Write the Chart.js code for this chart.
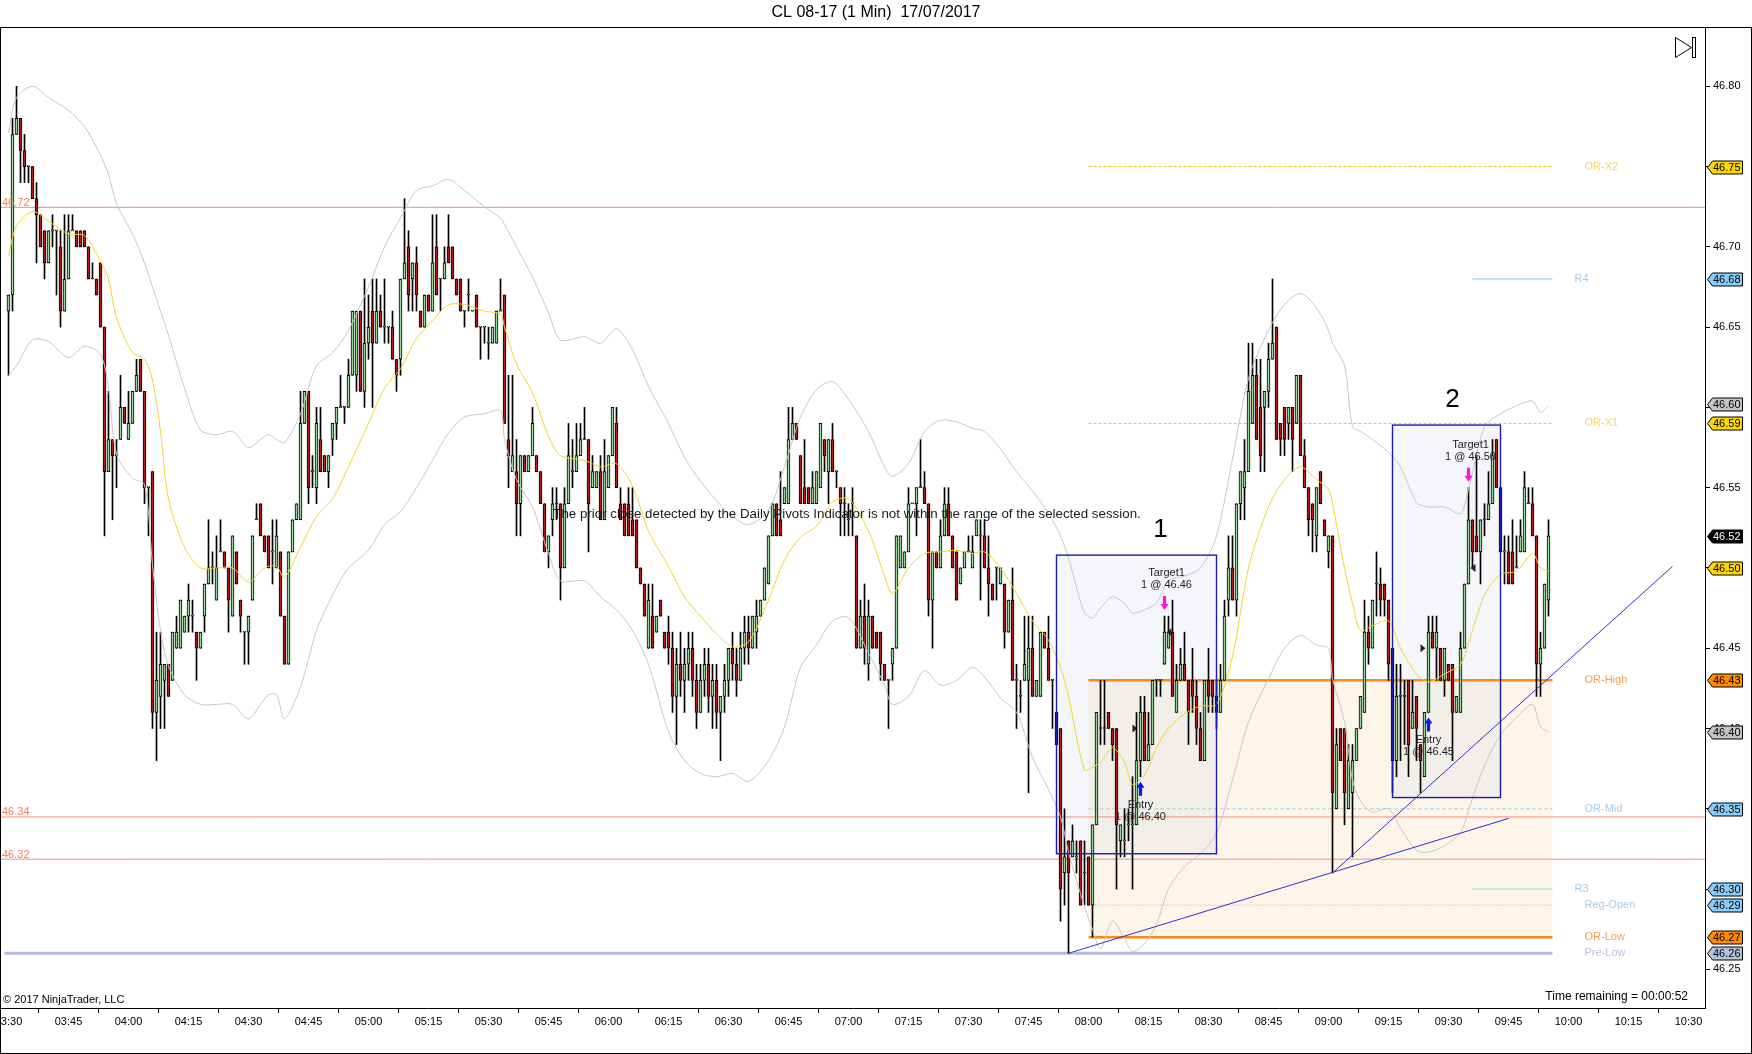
<!DOCTYPE html>
<html>
<head>
<meta charset="utf-8">
<script src="https://cdn.jsdelivr.net/npm/chart.js@4.4.0/dist/chart.umd.min.js"></script>
<style>
  html, body { margin: 0; padding: 0; background: #fff; }
</style>
</head>
<body>
<canvas id="grafico" width="1752" height="1054"></canvas>
<script>
// CL 08-17, barras de 1 minuto a partir das 03:30
const firstBar = '03:30';

// precos em centavos acima de 46.00
const opens = [
  66,67,77,78,76,75,75,73,72,71, 69,71,71,70,66,68,71,71,71,71,
  70,68,68,69,65,56,58,57,58,60, 58,59,61,63,61,55,56,41,42,43,
  44,43,45,45,46,47,47,46,45,47, 49,50,48,51,51,50,47,51,48,46,
  46,48,53,54,52,52,51,50,51,47, 44,51,53,53,59,61,56,55,58,57,
  56,58,59,60,60,60,62,62,66,61, 64,66,64,66,65,65,65,63,63,68,
  70,68,69,66,65,67,66,70,68,68, 70,70,68,68,66,67,66,67,65,65,
  64,64,64,66,67,58,56,56,54,57, 56,57,57,56,54,51,53,54,54,50,
  54,56,56,57,58,58,55,55,56,53, 55,57,59,54,54,54,53,53,50,49,
  45,47,46,48,46,46,45,42,44,43, 44,45,43,41,43,44,42,43,41,42,
  43,45,44,43,45,46,45,46,47,48, 49,52,54,53,54,54,58,59,57,55,
  55,54,54,55,58,56,58,56,55,54, 53,54,52,45,47,44,47,46,46,44,
  43,44,45,50,50,51,54,54,55,55, 54,48,51,50,52,54,52,51,49,50,
  51,50,52,52,52,50,49,50,49,49, 46,48,43,42,43,43,45,42,42,46,
  45,43,41,40,31,33,32,32,33,31, 32,29,34,40,40,41,40,40,33,33,
  34,34,34,38,41,38,39,43,43,44, 45,46,41,43,44,43,43,42,40,38,
  43,43,42,41,43,48,50,48,54,55, 56,59,62,60,60,61,63,65,59,60,
  59,60,59,62,57,55,54,52,56,53, 51,52,35,40,40,35,36,38,40,41,
  46,45,49,49,49,48,45,38,42,42, 43,40,42,39,37,41,46,45,45,43,
  44,44,41,41,45,49,53,52,51,53, 53,54,58,55,51,51,51,50,51,51,
  54,54,52,44,45,48
];
const highs = [
  67,78,80,78,77,75,75,74,72,71, 71,72,71,71,72,72,72,71,71,71,
  70,69,68,69,65,61,58,58,62,60, 61,61,63,63,61,55,56,46,46,44,
  44,46,47,48,47,49,48,46,46,49, 53,51,52,53,51,50,52,51,48,46,
  47,52,54,54,52,52,53,53,51,47, 51,53,54,61,61,61,57,60,60,57,
  57,59,60,62,60,63,66,66,66,68, 67,68,68,67,68,65,66,63,68,73,
  71,69,70,66,67,67,72,72,68,70, 72,70,68,68,66,68,66,67,65,65,
  65,65,66,68,67,62,62,58,57,57, 57,60,57,56,54,52,55,55,54,55,
  59,58,59,59,60,58,57,56,57,58, 57,60,60,55,54,55,55,53,50,49,
  49,49,47,48,46,47,46,45,46,45, 46,46,44,44,45,45,44,44,42,44,
  45,46,45,46,47,47,47,48,48,50, 52,54,54,56,55,60,60,59,57,58,
  55,56,56,59,58,58,59,56,55,55, 54,55,52,48,49,48,47,46,46,44,
  43,45,52,52,51,55,54,55,58,56, 54,51,51,53,55,55,52,51,50,51,
  52,52,53,53,53,52,49,50,50,49, 48,50,44,43,47,47,47,43,46,46,
  47,43,41,40,35,33,34,33,33,33, 32,34,41,43,43,41,40,40,34,35,
  35,37,41,42,42,41,43,43,43,47, 47,48,44,45,46,43,45,43,41,43,
  45,43,43,44,48,52,52,54,56,58, 64,64,63,63,61,64,68,65,59,60,
  60,60,62,62,58,55,54,55,56,53, 52,52,40,40,40,39,39,40,42,48,
  47,48,51,50,49,48,45,44,44,43, 43,43,42,39,41,47,47,47,45,45,
  44,44,42,46,49,55,53,57,53,54, 56,58,58,55,52,52,53,52,53,56,
  55,55,52,46,49,53
];
const lows = [
  62,66,77,74,74,74,73,69,70,68, 69,70,67,65,66,68,71,70,70,70,
  68,68,67,65,52,56,53,55,58,59, 58,59,61,61,54,52,40,38,40,40,
  42,43,45,45,46,46,46,43,45,46, 49,49,48,51,50,46,47,49,46,44,
  44,48,53,52,51,50,49,50,47,44, 44,51,53,53,59,54,55,54,56,56,
  55,57,58,60,59,60,62,61,61,60, 63,60,64,65,64,64,63,61,62,68,
  66,66,66,65,65,66,66,67,66,68, 69,68,67,66,65,66,66,65,63,64,
  63,64,64,66,59,55,56,52,52,56, 56,57,56,54,51,50,52,53,48,50,
  54,55,56,57,58,51,55,55,53,53, 55,57,55,53,52,52,52,50,49,47,
  45,45,46,47,45,44,41,39,42,41, 43,42,40,41,42,41,40,40,38,41,
  42,43,42,43,44,44,45,45,47,48, 49,52,52,52,54,54,58,58,54,54,
  54,54,54,55,56,54,56,55,52,52, 52,52,45,45,44,43,45,45,43,43,
  40,43,45,50,50,51,54,52,55,54, 47,45,50,50,52,52,50,48,49,50,
  51,50,52,48,50,47,48,48,49,45, 46,43,40,41,43,36,42,42,42,45,
  43,40,39,28,29,26,32,31,29,29, 29,27,34,39,39,40,38,30,32,32,
  33,30,34,37,38,38,39,42,42,44, 45,42,41,43,43,39,41,39,38,38,
  41,41,40,41,43,47,48,47,53,53, 56,59,58,56,56,60,63,58,57,57,
  58,56,59,57,55,52,51,51,54,52, 50,31,35,38,34,35,32,38,40,41,
  44,45,47,47,47,43,36,37,38,39, 37,40,38,36,37,41,45,43,43,42,
  43,38,41,41,45,49,50,51,49,52, 53,54,55,51,49,49,49,50,51,51,
  54,52,42,42,45,47
];
const closes = [
  67,77,78,76,75,75,73,72,70,69, 71,71,71,66,68,71,71,70,70,70,
  68,68,67,65,56,58,57,57,60,59, 59,61,62,61,55,55,41,43,44,44,
  42,46,46,48,47,48,47,45,46,49, 50,50,50,51,50,48,52,49,47,46,
  47,52,53,52,51,50,51,52,47,44, 51,53,54,59,61,55,56,59,56,56,
  57,59,60,60,60,62,66,66,61,64, 65,64,66,65,65,65,63,62,68,69,
  67,69,67,65,67,66,69,67,68,69, 69,68,67,66,66,67,66,65,65,65,
  64,65,66,66,59,57,57,54,57,56, 57,59,56,54,51,52,54,54,50,54,
  57,56,57,58,58,54,56,56,53,56, 57,60,55,53,52,52,52,50,49,47,
  48,45,47,47,45,45,42,44,43,44, 45,43,41,43,44,42,43,41,42,43,
  45,44,43,45,46,45,47,47,48,50, 52,54,52,52,55,58,59,58,54,54,
  54,55,56,59,57,58,56,56,54,54, 53,54,45,47,45,47,45,45,44,43,
  43,45,52,52,51,54,54,55,55,54, 48,51,50,52,54,52,50,48,50,51,
  51,51,53,52,50,49,48,50,50,46, 48,43,43,42,44,45,42,43,46,45,
  43,43,39,30,32,31,33,32,29,31, 29,34,41,40,40,40,39,34,34,33,
  34,34,38,41,38,39,43,43,43,46, 46,42,43,44,43,41,42,40,38,43,
  42,42,41,43,47,50,48,54,56,56, 61,62,58,57,61,63,64,58,58,58,
  60,58,62,57,55,53,53,55,54,52, 52,36,39,38,36,38,38,40,42,46,
  45,48,49,48,48,44,38,42,42,42, 39,41,40,38,41,46,45,46,43,45,
  43,41,42,45,49,53,51,51,53,53, 54,57,55,51,51,49,49,50,52,55,
  54,52,44,45,49,52
];

// Bollinger e media (amostrados a cada poucas barras)
const bandAt = [0,2,6,10,15,19,23,25,27,31,34,36,38,40,44,48,52,56,60,63,65,67,69,73,77,81,85,90,94,98,
  102,106,110,114,119,123,124,127,131,135,138,144,148,152,156,160,165,169,173,177,181,185,190,194,198,
  202,206,210,215,219,221,225,229,233,237,241,244,248,252,256,260,263,265,269,271,273,276,279,281,284,287,290,294,298,
  302,306,310,315,319,323,327,330,331,334,336,338,341,345,348,352,355,359,363,365,369,373,377,381,383,385];
const upperBand = [46.771,46.793,46.800,46.793,46.785,46.775,46.757,46.745,46.727,46.708,46.690,46.675,46.660,46.645,46.612,46.586,46.583,46.585,46.575,46.580,46.583,46.580,46.578,46.596,46.626,46.634,46.648,46.675,46.700,46.718,
  46.735,46.738,46.742,46.735,46.725,46.718,46.714,46.700,46.681,46.659,46.642,46.644,46.640,46.649,46.636,46.613,46.590,46.569,46.554,46.542,46.532,46.527,46.536,46.563,46.594,
  46.611,46.616,46.605,46.585,46.563,46.557,46.565,46.585,46.592,46.591,46.587,46.585,46.574,46.560,46.548,46.534,46.520,46.506,46.472,46.469,46.475,46.482,46.478,46.472,46.474,46.478,46.492,46.495,46.500,
  46.520,46.568,46.618,46.648,46.664,46.671,46.662,46.648,46.640,46.626,46.588,46.585,46.580,46.572,46.563,46.541,46.538,46.538,46.534,46.549,46.588,46.596,46.601,46.604,46.597,46.601];
const lowerBand = [46.620,46.626,46.642,46.641,46.631,46.638,46.633,46.612,46.571,46.556,46.552,46.502,46.461,46.439,46.421,46.415,46.415,46.415,46.406,46.415,46.421,46.421,46.406,46.426,46.461,46.483,46.500,46.511,46.527,46.535,
  46.550,46.567,46.584,46.594,46.596,46.598,46.580,46.555,46.538,46.509,46.492,46.492,46.482,46.474,46.461,46.440,46.398,46.380,46.372,46.370,46.372,46.367,46.380,46.401,46.438,
  46.452,46.467,46.469,46.447,46.427,46.415,46.420,46.436,46.427,46.430,46.438,46.432,46.419,46.410,46.382,46.362,46.345,46.323,46.289,46.275,46.263,46.280,46.269,46.261,46.266,46.278,46.300,46.314,46.322,
  46.335,46.368,46.404,46.431,46.450,46.458,46.452,46.450,46.431,46.404,46.368,46.355,46.348,46.350,46.338,46.324,46.323,46.327,46.335,46.349,46.377,46.396,46.407,46.415,46.401,46.398];
const smaLine = [46.694,46.713,46.722,46.716,46.708,46.707,46.691,46.680,46.656,46.634,46.630,46.617,46.585,46.543,46.513,46.500,46.500,46.500,46.491,46.498,46.501,46.501,46.494,46.513,46.532,46.543,46.563,46.590,46.612,46.624,
  46.643,46.654,46.664,46.664,46.660,46.658,46.650,46.627,46.609,46.582,46.570,46.567,46.563,46.565,46.551,46.523,46.501,46.482,46.470,46.459,46.451,46.454,46.480,46.505,46.519,
  46.526,46.541,46.543,46.523,46.495,46.484,46.500,46.509,46.510,46.511,46.509,46.510,46.500,46.484,46.467,46.455,46.438,46.420,46.374,46.376,46.379,46.388,46.379,46.365,46.371,46.388,46.400,46.409,46.414,
  46.415,46.445,46.500,46.538,46.555,46.563,46.555,46.549,46.540,46.500,46.478,46.461,46.464,46.467,46.450,46.434,46.429,46.434,46.440,46.453,46.483,46.496,46.498,46.509,46.500,46.498];

// eixos
const timeTicks = ['03:30','03:45','04:00','04:15','04:30','04:45','05:00','05:15','05:30','05:45','06:00','06:15',
  '06:30','06:45','07:00','07:15','07:30','07:45','08:00','08:15','08:30','08:45','09:00','09:15','09:30','09:45',
  '10:00','10:15','10:30'];
const priceTicks = [46.25,46.30,46.35,46.40,46.45,46.50,46.55,46.60,46.65,46.70,46.75,46.80];

// niveis do indicador
const levelNames = ['OR-X2','R4','OR-X1','OR-High','OR-Mid','R3','Reg-Open','OR-Low','Pre-Low'];
const levelPrices = [46.75,46.68,46.59,46.43,46.35,46.30,46.29,46.27,46.26];
const levelFrom = ['08:00','09:36','08:00','08:00','08:00','09:36','08:00','08:00','03:29'];
const levelEnd = '09:56';
const priorLevels = [46.7246,46.3449,46.3186];

// retangulos e linhas de tendencia
const boxFrom = ['07:52','09:16'];
const boxTo = ['08:32','09:43'];
const boxHigh = [46.508,46.589];
const boxLow = [46.322,46.357];
const boxTitles = ['1','2'];
const boxTitleAt = ['08:18','09:31'];
const trendFrom = ['07:55','09:01'];
const trendFromPrice = [46.26,46.31];
const trendTo = ['09:45','10:26'];
const trendToPrice = [46.344,46.501];

// operacoes
const entryTimes = ['08:13','09:25'];
const entryPrices = [46.40,46.45];
const exitTimes = ['08:19','09:35'];
const exitPrices = [46.46,46.50];

// marcadores do eixo de precos
const badgePrices = [46.75,46.68,46.602,46.59,46.52,46.50,46.43,46.398,46.35,46.30,46.29,46.27,46.26];

/* ===== conversoes ===== */
const toMin = t => { const [h, m] = t.split(':').map(Number); return h * 60 + m; };
const fmt = v => String(Math.floor(v / 60)).padStart(2, '0') + ':' + String(Math.round(v % 60)).padStart(2, '0');
const px = c => 46 + c / 100;
const t0 = toMin(firstBar);
const barMin = opens.map((_, i) => t0 + i);

const FONT = "'Liberation Sans', Arial, sans-serif";
Chart.defaults.font.family = FONT;

const levelStyle = {
  'OR-X2':   { color: '#f2c21b', width: 1, dash: [3, 2], text: '#f3d36a' },
  'R4':      { color: '#8fc6e8', width: 1, dash: [], text: '#a6cbe6' },
  'OR-X1':   { color: '#f2c21b', width: 1, dash: [3, 2], text: '#f3d36a' },
  'OR-High': { color: '#ff8a12', width: 2.5, dash: [], text: '#f5a250' },
  'OR-Mid':  { color: '#9ccbea', width: 1, dash: [3, 3], text: '#a6cbe6' },
  'R3':      { color: '#9fd0c8', width: 1, dash: [], text: '#a6cbe6' },
  'Reg-Open':{ color: '#a8a8a8', width: 1, dash: [1, 2], text: '#a6cbe6' },
  'OR-Low':  { color: '#ff8a12', width: 2.5, dash: [], text: '#f5a250' },
  'Pre-Low': { color: '#b3bce3', width: 3, dash: [], text: '#bcc3dc' }
};
const badgeFill = ['#ffd700','#87cefa','#c4c4c4','#ffd700','#000000','#ffd700','#ff8c00','#c4c4c4','#87cefa','#87cefa','#87cefa','#ff8c00','#b0c4de'];

const datasets = [];

// linhas de nivel (por baixo das barras)
levelNames.forEach((n, k) => {
  const s = levelStyle[n];
  datasets.push({
    type: 'line', order: 9,
    data: [{ x: toMin(levelFrom[k]), y: levelPrices[k] }, { x: toMin(levelEnd), y: levelPrices[k] }],
    borderColor: s.color, borderWidth: s.width, borderDash: s.dash, pointRadius: 0
  });
});
priorLevels.forEach(v => {
  datasets.push({
    type: 'line', order: 9,
    data: [{ x: 200, y: v }, { x: 640, y: v }],
    borderColor: '#f39178', borderWidth: 1, pointRadius: 0
  });
});

// candles: pavio + corpo
datasets.push({
  type: 'bar', order: 4, grouped: false,
  data: barMin.map((m, i) => ({ x: m, y: [px(lows[i]), px(highs[i])] })),
  backgroundColor: '#000', barThickness: 1
});
datasets.push({
  type: 'bar', order: 3, grouped: false,
  data: barMin.map((m, i) => ({ x: m, y: [px(opens[i]), px(closes[i])] })),
  backgroundColor: c => closes[c.dataIndex] >= opens[c.dataIndex] ? '#98d498' : '#ad1c1c',
  borderColor: '#000', borderWidth: 1, borderSkipped: false, barThickness: 3, minBarLength: 1
});

// indicadores
[[upperBand, '#c6c6c6'], [lowerBand, '#c6c6c6'], [smaLine, '#f2d32a']].forEach(([arr, col]) => {
  datasets.push({
    type: 'line', order: 2,
    data: bandAt.map((b, k) => ({ x: t0 + b, y: arr[k] })),
    borderColor: col, borderWidth: 1, pointRadius: 0, tension: 0.3
  });
});

// linhas de tendencia
trendFrom.forEach((t, k) => {
  datasets.push({
    type: 'line', order: 1,
    data: [{ x: toMin(t), y: trendFromPrice[k] }, { x: toMin(trendTo[k]), y: trendToPrice[k] }],
    borderColor: '#2f2fd0', borderWidth: 1, pointRadius: 0
  });
});

function text(ctx, s, x, y, font, color, align) {
  ctx.font = font; ctx.fillStyle = color; ctx.textAlign = align || 'left'; ctx.textBaseline = 'middle';
  ctx.fillText(s, x, y);
}

const overlay = {
  id: 'overlay',
  beforeDatasetsDraw(chart) {
    const { ctx, chartArea: a, scales: { x, y } } = chart;
    ctx.save();
    ctx.beginPath(); ctx.rect(a.left, a.top, a.width, a.height); ctx.clip();
    // faixa da abertura (OR)
    const zx0 = x.getPixelForValue(toMin(levelFrom[3])), zx1 = x.getPixelForValue(toMin(levelEnd));
    const zy0 = y.getPixelForValue(levelPrices[3]), zy1 = y.getPixelForValue(levelPrices[7]);
    ctx.fillStyle = 'rgba(250,222,185,0.3)';
    ctx.fillRect(zx0, zy0, zx1 - zx0, zy1 - zy0);
    boxFrom.forEach((t, k) => {
      const bx0 = x.getPixelForValue(toMin(t)), bx1 = x.getPixelForValue(toMin(boxTo[k]));
      const by0 = y.getPixelForValue(boxHigh[k]), by1 = y.getPixelForValue(boxLow[k]);
      ctx.fillStyle = 'rgba(205,214,232,0.22)';
      ctx.fillRect(bx0, by0, bx1 - bx0, by1 - by0);
    });
    ctx.restore();
  },
  afterDatasetsDraw(chart) {
    const { ctx, chartArea: a, scales: { x, y } } = chart;
    ctx.save();
    ctx.beginPath(); ctx.rect(a.left, a.top, a.width, a.height); ctx.clip();

    // contornos dos retangulos
    boxFrom.forEach((t, k) => {
      const bx0 = x.getPixelForValue(toMin(t)), bx1 = x.getPixelForValue(toMin(boxTo[k]));
      const by0 = y.getPixelForValue(boxHigh[k]), by1 = y.getPixelForValue(boxLow[k]);
      ctx.strokeStyle = '#1b1bb0'; ctx.lineWidth = 1.4;
      ctx.strokeRect(bx0, by0, bx1 - bx0, by1 - by0);
      text(ctx, boxTitles[k], x.getPixelForValue(toMin(boxTitleAt[k])), by0 - 25, '26px ' + FONT, '#000', 'center');
    });

    // operacoes: setas e textos
    entryTimes.forEach((t, k) => {
      const i = toMin(t) - t0;
      const bx = x.getPixelForValue(toMin(t));
      const tip = y.getPixelForValue(px(lows[i])) + 5;
      ctx.fillStyle = '#0a14ff';
      ctx.beginPath();
      ctx.moveTo(bx, tip); ctx.lineTo(bx + 4, tip + 6); ctx.lineTo(bx + 1.6, tip + 6); ctx.lineTo(bx + 1.6, tip + 14);
      ctx.lineTo(bx - 1.6, tip + 14); ctx.lineTo(bx - 1.6, tip + 6); ctx.lineTo(bx - 4, tip + 6); ctx.closePath(); ctx.fill();
      text(ctx, 'Entry', bx, tip + 23, '11px ' + FONT, '#222', 'center');
      text(ctx, '1 @ ' + entryPrices[k].toFixed(2), bx, tip + 35, '11px ' + FONT, '#222', 'center');
      const ey = y.getPixelForValue(entryPrices[k]);
      ctx.beginPath(); ctx.moveTo(bx - 8, ey - 4); ctx.lineTo(bx - 3, ey); ctx.lineTo(bx - 8, ey + 4); ctx.closePath(); ctx.fill();
    });
    exitTimes.forEach((t, k) => {
      const i = toMin(t) - t0;
      const bx = x.getPixelForValue(toMin(t));
      const tip = y.getPixelForValue(px(highs[i])) - 6;
      ctx.fillStyle = '#ff14e6';
      ctx.beginPath();
      ctx.moveTo(bx, tip); ctx.lineTo(bx + 4, tip - 6); ctx.lineTo(bx + 1.6, tip - 6); ctx.lineTo(bx + 1.6, tip - 14);
      ctx.lineTo(bx - 1.6, tip - 14); ctx.lineTo(bx - 1.6, tip - 6); ctx.lineTo(bx - 4, tip - 6); ctx.closePath(); ctx.fill();
      text(ctx, '1 @ ' + exitPrices[k].toFixed(2), bx + 2, tip - 25, '11px ' + FONT, '#222', 'center');
      text(ctx, 'Target1', bx + 2, tip - 37, '11px ' + FONT, '#222', 'center');
      const ey = y.getPixelForValue(exitPrices[k]);
      ctx.beginPath(); ctx.moveTo(bx + 7, ey - 4); ctx.lineTo(bx + 2, ey); ctx.lineTo(bx + 7, ey + 4); ctx.closePath(); ctx.fill();
    });

    // rotulos dos niveis
    levelNames.forEach((n, k) => {
      const lx = x.getPixelForValue(toMin(levelEnd)) + (n === 'R4' || n === 'R3' ? 22 : 32);
      text(ctx, n, lx, y.getPixelForValue(levelPrices[k]), '11px ' + FONT, levelStyle[n].text);
    });
    priorLevels.forEach(v => {
      ctx.font = '11px ' + FONT; ctx.fillStyle = '#f2805f'; ctx.textAlign = 'left'; ctx.textBaseline = 'bottom';
      ctx.fillText(v.toFixed(2), a.left + 1, y.getPixelForValue(v) + 1);
    });

    // avisos
    text(ctx, 'The prior close detected by the Daily Pivots Indicator is not within the range of the selected session.',
      (a.left + a.right) / 2 - 6, (a.top + a.bottom) / 2 - 3, '13.33px ' + FONT, '#1a1a1a', 'center');
    text(ctx, '\u00a9 2017 NinjaTrader, LLC', a.left + 2, a.bottom - 8, '11px ' + FONT, '#000');
    text(ctx, 'Time remaining = 00:00:52', a.right - 17, a.bottom - 11, '12px ' + FONT, '#000', 'right');

    // icone
    ctx.strokeStyle = '#000'; ctx.lineWidth = 1;
    ctx.beginPath(); ctx.moveTo(1675.5, 37.5); ctx.lineTo(1691.5, 47.5); ctx.lineTo(1675.5, 57.5); ctx.closePath(); ctx.stroke();
    ctx.strokeRect(1692.5, 37.5, 3, 20);
    ctx.restore();
  },
  afterDraw(chart) {
    const { ctx, chartArea: a, scales: { y } } = chart;
    ctx.save();
    // marcadores no eixo
    badgePrices.forEach((v, k) => {
      const by = Math.round(y.getPixelForValue(v)) + 0.5;
      const x0 = a.right + 2.5, x1 = a.right + 7.5, x2 = a.right + 37.5;
      ctx.beginPath();
      ctx.moveTo(x0, by); ctx.lineTo(x1, by - 6.5); ctx.lineTo(x2, by - 6.5); ctx.lineTo(x2, by + 6.5); ctx.lineTo(x1, by + 6.5); ctx.closePath();
      ctx.fillStyle = badgeFill[k]; ctx.fill();
      ctx.strokeStyle = '#000'; ctx.lineWidth = 1; ctx.stroke();
      text(ctx, v.toFixed(2), a.right + 8, by + 0.5, '11px ' + FONT, badgeFill[k] === '#000000' ? '#fff' : '#000');
    });
    // moldura e titulo
    ctx.strokeStyle = '#000'; ctx.lineWidth = 1;
    ctx.strokeRect(0.5, 27.5, chart.width - 1, chart.height - 28);
    text(ctx, 'CL 08-17 (1 Min)  17/07/2017', chart.width / 2, 13, '16px ' + FONT, '#000', 'center');
    ctx.restore();
  }
};

const ctx = document.getElementById('grafico').getContext('2d');
const grafico = new Chart(ctx, {
  type: 'bar',
  data: { datasets },
  options: {
    responsive: false,
    animation: false,
    events: [],
    layout: { padding: { left: 1, top: 27, right: 1, bottom: 1 } },
    plugins: { legend: { display: false }, tooltip: { enabled: false }, title: { display: false } },
    scales: {
      x: {
        type: 'linear', offset: false,
        min: 208.125, max: 634.125,
        grid: { drawOnChartArea: false, drawTicks: true, tickLength: 5, color: '#000' },
        border: { color: '#000', width: 1 },
        ticks: { color: '#000', font: { size: 11 }, maxRotation: 0, autoSkip: false, padding: 2, callback: v => fmt(v) },
        afterBuildTicks: s => { s.ticks = timeTicks.map(t => ({ value: toMin(t) })); },
        afterFit: s => { s.height = 45; s.paddingLeft = 0; s.paddingRight = 0; }
      },
      y: {
        position: 'right', beginAtZero: false,
        min: 46.22591, max: 46.836936,
        grid: { drawOnChartArea: false, drawTicks: true, tickLength: 5, color: '#000' },
        border: { color: '#000', width: 1 },
        ticks: { color: '#000', font: { size: 11 }, padding: 3, callback: v => v.toFixed(2) },
        afterBuildTicks: s => { s.ticks = priceTicks.map(v => ({ value: v })); },
        afterFit: s => { s.width = 46; s.paddingTop = 0; s.paddingBottom = 0; }
      }
    }
  },
  plugins: [overlay]
});
</script>
</body>
</html>
